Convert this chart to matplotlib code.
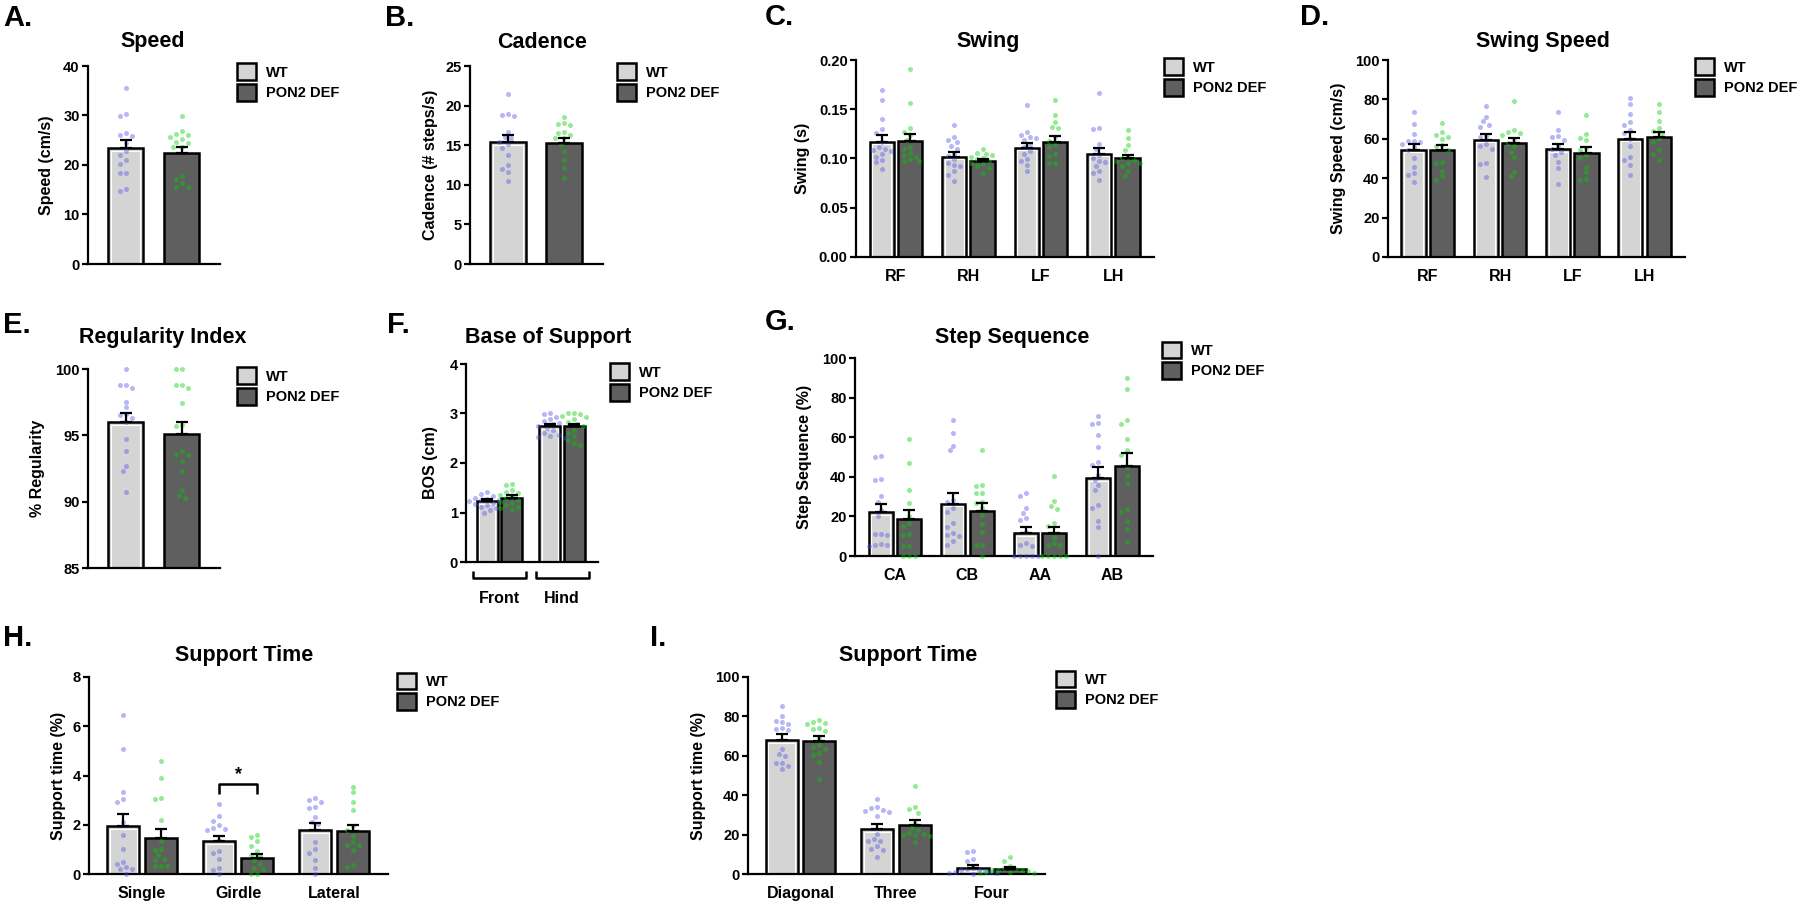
import numpy as np
import matplotlib

matplotlib.use("Agg")
import matplotlib.pyplot as plt
from matplotlib.patches import Patch
from matplotlib.ticker import FormatStrFormatter
from matplotlib.transforms import blended_transform_factory

W, H = 1800, 905
plt.rcParams["font.family"] = ["Liberation Sans", "DejaVu Sans"]
plt.rcParams["font.weight"] = "bold"
plt.rcParams["axes.labelweight"] = "bold"

GROUPS = ["WT", "PON2 DEF"]
WT_FILL = "#d4d4d4"
KO_FILL = "#5f5f5f"
WT_DOT = (0.30, 0.30, 0.92)
KO_DOT = (0.00, 0.82, 0.00)

# --- A. Speed ---------------------------------------------------------------
SPEED_WT_MEAN, SPEED_WT_SEM = [23.4], [1.6]
SPEED_KO_MEAN, SPEED_KO_SEM = [22.5], [1.2]
SPEED_WT_PTS = [[35.6, 30.3, 29.9, 26.5, 26.0, 25.8, 24.4, 22.9, 22.1, 21.1,
                 20.2, 18.3, 18.3, 15.1, 14.8]]
SPEED_KO_PTS = [[29.9, 26.8, 26.2, 26.0, 25.7, 25.2, 24.7, 24.4, 23.7, 23.7,
                 17.8, 17.1, 16.4, 15.6, 15.5]]

# --- B. Cadence -------------------------------------------------------------
CAD_WT_MEAN, CAD_WT_SEM = [15.4], [0.85]
CAD_KO_MEAN, CAD_KO_SEM = [15.3], [0.6]
CAD_WT_PTS = [[21.5, 18.9, 18.8, 18.7, 16.7, 16.0, 15.9, 15.4, 15.1, 14.6,
               13.7, 12.5, 12.0, 11.6, 10.5]]
CAD_KO_PTS = [[18.6, 17.8, 17.7, 17.5, 16.7, 16.6, 16.3, 15.9, 15.9, 15.2,
               14.3, 13.1, 12.1, 10.9]]

# --- C. Swing ---------------------------------------------------------------
LIMBS = ["RF", "RH", "LF", "LH"]
SWING_WT_MEAN = [0.117, 0.102, 0.111, 0.105]
SWING_WT_SEM = [0.007, 0.005, 0.0045, 0.006]
SWING_KO_MEAN = [0.118, 0.097, 0.117, 0.100]
SWING_KO_SEM = [0.007, 0.0027, 0.006, 0.004]
SWING_WT_PTS = [
    [0.170, 0.159, 0.140, 0.130, 0.126, 0.117, 0.112, 0.110, 0.109, 0.108,
     0.105, 0.102, 0.098, 0.096, 0.089],
    [0.134, 0.122, 0.119, 0.117, 0.113, 0.110, 0.105, 0.103, 0.099, 0.095,
     0.093, 0.092, 0.087, 0.083, 0.077],
    [0.154, 0.127, 0.124, 0.122, 0.121, 0.119, 0.115, 0.112, 0.108, 0.105,
     0.099, 0.097, 0.093, 0.087],
    [0.166, 0.131, 0.130, 0.115, 0.110, 0.104, 0.100, 0.097, 0.096, 0.092,
     0.087, 0.085, 0.078],
]
SWING_KO_PTS = [
    [0.191, 0.156, 0.131, 0.127, 0.124, 0.119, 0.112, 0.110, 0.106, 0.104,
     0.102, 0.099, 0.097, 0.097],
    [0.110, 0.106, 0.105, 0.104, 0.102, 0.100, 0.099, 0.097, 0.095, 0.094,
     0.092, 0.090, 0.085],
    [0.159, 0.144, 0.137, 0.132, 0.131, 0.122, 0.118, 0.114, 0.112, 0.105,
     0.103, 0.095, 0.095],
    [0.129, 0.121, 0.114, 0.109, 0.102, 0.100, 0.098, 0.097, 0.095, 0.095,
     0.092, 0.087, 0.082],
]

# --- D. Swing speed ---------------------------------------------------------
SWSP_WT_MEAN = [54.4, 59.5, 54.7, 60.1]
SWSP_WT_SEM = [2.9, 2.8, 2.6, 3.2]
SWSP_KO_MEAN = [54.4, 57.8, 53.0, 61.1]
SWSP_KO_SEM = [2.5, 2.8, 2.7, 2.2]
SWSP_WT_PTS = [
    [73.5, 67.6, 62.5, 59.1, 58.8, 58.6, 57.4, 55.6, 54.4, 50.2, 45.9, 42.6,
     41.7, 38.3],
    [76.7, 71.3, 68.8, 67.1, 66.2, 61.5, 60.8, 57.4, 56.1, 55.0, 47.6, 47.3,
     40.4],
    [73.5, 64.5, 61.5, 60.8, 59.5, 56.1, 54.7, 53.5, 51.9, 48.1, 45.1, 37.2],
    [80.9, 77.5, 72.5, 68.4, 67.1, 64.5, 62.8, 59.8, 56.1, 51.0, 49.3, 46.8,
     41.7],
]
SWSP_KO_PTS = [
    [68.2, 63.2, 62.0, 61.1, 60.0, 56.6, 56.1, 54.4, 48.0, 47.6, 43.9, 40.9,
     39.2],
    [79.2, 64.5, 63.2, 62.8, 62.0, 59.8, 58.0, 56.1, 53.5, 51.0, 43.4, 40.9],
    [72.1, 62.5, 60.3, 59.5, 55.2, 54.4, 52.0, 50.2, 45.9, 42.9, 39.7, 38.9],
    [77.5, 73.8, 69.1, 65.4, 64.2, 62.8, 60.0, 58.6, 54.4, 52.4, 49.3],
]

# --- E. Regularity index ----------------------------------------------------
REG_WT_MEAN, REG_WT_SEM = [96.0], [0.72]
REG_KO_MEAN, REG_KO_SEM = [95.1], [0.94]
REG_WT_PTS = [[100.0, 98.8, 98.8, 98.6, 97.55, 97.1, 96.6, 96.5, 96.3, 96.0,
               94.7, 93.8, 92.7, 92.3, 90.7]]
REG_KO_PTS = [[100.0, 100.0, 98.8, 98.8, 98.6, 97.4, 95.8, 95.7, 93.8, 93.6,
               93.5, 93.1, 92.3, 90.9, 90.5, 90.3]]

# --- F. Base of support -----------------------------------------------------
PAWS = ["Front", "Hind"]
BOS_WT_MEAN, BOS_WT_SEM = [1.225, 2.74], [0.045, 0.05]
BOS_KO_MEAN, BOS_KO_SEM = [1.29, 2.74], [0.07, 0.05]
BOS_WT_PTS = [
    [1.41, 1.37, 1.34, 1.30, 1.28, 1.26, 1.25, 1.23, 1.20, 1.18, 1.15, 1.12,
     1.09, 1.05, 1.00],
    [3.01, 2.99, 2.92, 2.88, 2.84, 2.81, 2.78, 2.75, 2.71, 2.66, 2.61, 2.57,
     2.55, 2.52, 2.50],
]
BOS_KO_PTS = [
    [1.58, 1.56, 1.45, 1.42, 1.39, 1.35, 1.31, 1.29, 1.26, 1.22, 1.19, 1.16,
     1.12, 1.09, 1.06],
    [3.02, 3.00, 2.98, 2.95, 2.93, 2.88, 2.82, 2.78, 2.74, 2.67, 2.61, 2.55,
     2.47, 2.40, 2.37],
]

# --- G. Step sequence -------------------------------------------------------
STEPS = ["CA", "CB", "AA", "AB"]
SEQ_WT_MEAN = [22.1, 26.5, 11.5, 39.3]
SEQ_WT_SEM = [4.2, 5.5, 3.2, 5.6]
SEQ_KO_MEAN = [18.9, 22.8, 11.5, 45.5]
SEQ_KO_SEM = [4.4, 3.8, 3.3, 6.4]
SEQ_WT_PTS = [
    [50.3, 50.0, 39.0, 38.2, 30.3, 27.5, 23.0, 20.2, 11.3, 11.0, 10.6, 6.0,
     5.6, 5.4, 5.0],
    [68.8, 62.1, 55.8, 53.3, 28.3, 27.2, 24.1, 22.4, 16.5, 14.8, 11.8, 10.6,
     10.1, 7.8, 5.6],
    [32.0, 30.5, 24.1, 21.6, 19.1, 18.2, 12.3, 6.4, 5.6, 5.1, 0, 0, 0, 0, 0],
    [70.8, 67.1, 66.8, 61.2, 55.3, 47.7, 46.0, 41.0, 38.4, 35.9, 33.4, 25.8,
     24.1, 17.9, 14.5, 0],
]
SEQ_KO_PTS = [
    [59.0, 47.2, 33.4, 26.6, 20.0, 16.9, 15.2, 11.1, 10.6, 5.1, 5.1, 0, 0, 0],
    [53.6, 35.9, 35.6, 32.0, 31.7, 27.5, 27.0, 24.1, 20.7, 16.2, 12.0, 5.6,
     5.6, 0],
    [40.5, 28.0, 25.3, 23.8, 16.5, 15.2, 9.8, 6.4, 5.6, 5.6, 0, 0, 0, 0, 0],
    [89.9, 84.3, 68.8, 66.8, 59.0, 53.3, 51.1, 45.2, 40.5, 37.1, 23.8, 22.4,
     17.9, 13.5, 6.9],
]

# --- H. Support time (single / girdle / lateral) ----------------------------
SUP1 = ["Single", "Girdle", "Lateral"]
SUP1_WT_MEAN = [1.93, 1.32, 1.77]
SUP1_WT_SEM = [0.51, 0.23, 0.29]
SUP1_KO_MEAN = [1.46, 0.67, 1.73]
SUP1_KO_SEM = [0.36, 0.15, 0.24]
SUP1_WT_PTS = [
    [6.45, 5.07, 3.31, 3.05, 2.94, 2.10, 1.57, 1.03, 0.49, 0.40, 0.27, 0.22,
     0.20, 0.02],
    [2.83, 2.36, 2.17, 1.97, 1.86, 1.84, 1.77, 1.39, 0.92, 0.85, 0.61, 0.24,
     0.18, 0.0],
    [3.10, 3.01, 2.94, 2.71, 2.67, 2.33, 2.13, 2.04, 1.30, 1.01, 0.85, 0.55,
     0.24, 0.0],
]
SUP1_KO_PTS = [
    [4.60, 3.89, 3.10, 3.05, 2.20, 1.32, 1.01, 0.99, 0.78, 0.61, 0.55, 0.34,
     0.31, 0.31],
    [1.59, 1.50, 1.32, 1.15, 0.92, 0.78, 0.72, 0.55, 0.40, 0.24, 0.20, 0.0,
     0.0],
    [3.55, 3.31, 2.94, 2.60, 1.93, 1.79, 1.53, 1.28, 1.19, 1.19, 0.99, 0.38,
     0.28],
]
SIG_GROUP = 1          # Girdle, p < 0.05
SIG_LEG, SIG_TOP = 3.25, 3.65

# --- I. Support time (diagonal / three / four) ------------------------------
SUP2 = ["Diagonal", "Three", "Four"]
SUP2_WT_MEAN = [68.0, 22.8, 3.0]
SUP2_WT_SEM = [3.0, 2.7, 1.4]
SUP2_KO_MEAN = [67.6, 25.0, 2.5]
SUP2_KO_SEM = [2.4, 2.5, 1.0]
SUP2_WT_PTS = [
    [85.2, 80.1, 77.7, 77.2, 76.1, 74.2, 73.5, 73.0, 63.2, 60.7, 60.0, 56.5,
     56.2, 54.8, 53.3],
    [37.9, 33.9, 33.4, 32.5, 32.2, 31.7, 29.2, 20.2, 17.7, 17.0, 16.5, 14.0,
     12.6, 12.3, 8.4],
    [11.5, 11.3, 7.6, 6.4, 3.0, 2.5, 2.0, 1.8, 1.5, 1.2, 1.0, 0.5, 0.3, 0.0],
]
SUP2_KO_PTS = [
    [78.4, 77.2, 76.4, 76.1, 73.9, 73.4, 72.7, 68.8, 65.4, 64.6, 63.7, 61.6,
     60.4, 57.0, 48.1],
    [44.9, 33.9, 33.1, 31.2, 25.8, 23.3, 22.4, 20.7, 20.2, 20.0, 19.9, 19.5,
     16.0],
    [8.6, 6.4, 3.9, 3.0, 2.5, 2.2, 2.0, 1.8, 1.5, 1.2, 1.0, 0.6, 0.3],
]


fig = plt.figure(figsize=(W / 100, H / 100), dpi=100)


def px_axes(left, top, right, bottom):
    return fig.add_axes([left / W, 1 - bottom / H, (right - left) / W,
                         (bottom - top) / H])


def px_scale(ax):
    bb = ax.get_window_extent()
    x0, x1 = ax.get_xlim()
    y0, y1 = ax.get_ylim()
    return bb.width / (x1 - x0), bb.height / (y1 - y0)


def swarm_x(vals, ax, center, d=6.0):
    """Beeswarm offsets in pixel space so dots don't overlap."""
    ppx, ppy = px_scale(ax)
    yp = np.asarray(vals, float) * ppy
    steps = [0.0]
    for k in range(1, 14):
        steps += [-k * d / 2, k * d / 2]
    placed = []
    out = np.zeros(len(yp))
    for i in np.argsort(-yp):
        for s in steps:
            if all((s - a) ** 2 + (yp[i] - b) ** 2 >= 0.9 * d * d
                   for a, b in placed):
                break
        placed.append((s, yp[i]))
        out[i] = center + s / ppx
    return out


def panel(box, ylim, yticks, xlim, xw, xk, width,
          wt_mean, wt_sem, ko_mean, ko_sem, wt_pts, ko_pts,
          ylabel, ylabel_x, cats=None, xpad=8.5, fmt=None):
    ax = px_axes(*box)
    ax.set_xlim(*xlim)
    ax.set_ylim(*ylim)
    base = ylim[0]
    ax.bar(xw, np.subtract(wt_mean, base), width, bottom=base,
           color=WT_FILL, edgecolor="black", linewidth=1.8, zorder=2)
    # thin white inner rim on the WT bars (Prism style)
    ppx, ppy = px_scale(ax)
    ax.bar(xw, np.subtract(wt_mean, base) - 2.6 / ppy, width - 5.2 / ppx,
           bottom=base, facecolor="none", edgecolor="white", linewidth=0.8,
           zorder=2.1)
    ax.bar(xk, np.subtract(ko_mean, base), width, bottom=base,
           color=KO_FILL, edgecolor="black", linewidth=1.8, zorder=2)
    for x, pts in zip(xw, wt_pts):
        ax.scatter(swarm_x(pts, ax, x), pts, s=13, color=WT_DOT, alpha=0.4,
                   linewidths=0, zorder=3, clip_on=False)
    for x, pts in zip(xk, ko_pts):
        ax.scatter(swarm_x(pts, ax, x), pts, s=13, color=KO_DOT, alpha=0.42,
                   linewidths=0, zorder=3, clip_on=False)
    ax.errorbar(xw, wt_mean, yerr=[np.zeros(len(xw)), wt_sem], fmt="none",
                ecolor="black", elinewidth=1.6, capsize=4.5, capthick=1.6,
                zorder=4)
    ax.errorbar(xk, ko_mean, yerr=[np.zeros(len(xk)), ko_sem], fmt="none",
                ecolor="black", elinewidth=1.6, capsize=4.5, capthick=1.6,
                zorder=4)

    ax.set_yticks(yticks)
    if fmt:
        ax.yaxis.set_major_formatter(FormatStrFormatter(fmt))
    for s in ("top", "right"):
        ax.spines[s].set_visible(False)
    for s in ("left", "bottom"):
        ax.spines[s].set_linewidth(1.6)
    ax.tick_params(axis="y", length=4.5, width=1.6, labelsize=10.5, pad=1.5)
    ax.tick_params(axis="x", length=0, labelsize=11.5, pad=xpad)
    if cats is None:
        ax.set_xticks([])
    else:
        ax.set_xticks(range(len(cats)))
        ax.set_xticklabels(cats)
    ax.set_ylabel(ylabel, fontsize=11.5, va="center")
    ax.yaxis.set_label_coords((ylabel_x - box[0]) / (box[2] - box[0]), 0.5)
    return ax


def legend(ax, x_px, row_y_px):
    handles = [Patch(facecolor=WT_FILL, edgecolor="black", linewidth=1.8),
               Patch(facecolor=KO_FILL, edgecolor="black", linewidth=1.8)]
    ax.legend(handles, GROUPS, loc="upper left",
              bbox_to_anchor=(x_px / W, 1 - (row_y_px - 9.5) / H),
              bbox_transform=fig.transFigure, frameon=False, borderpad=0,
              borderaxespad=0, handlelength=1.3, handleheight=1.35,
              handletextpad=0.7, labelspacing=0.3,
              prop={"size": 10.5, "weight": "bold"})


def label(x_px, y_px, text, size, ha="left"):
    fig.text(x_px / W, 1 - y_px / H, text, fontsize=size, fontweight="bold",
             ha=ha, va="center")


def grouped(n):
    c = np.arange(n)
    return c - 0.196, c + 0.196, (-0.55, n - 1 + 0.56)


# A
axA = panel((88, 66, 220, 264), (0, 40), range(0, 41, 10), (-0.664, 1.673),
            [0], [1], 0.62, SPEED_WT_MEAN, SPEED_WT_SEM, SPEED_KO_MEAN,
            SPEED_KO_SEM, SPEED_WT_PTS, SPEED_KO_PTS, "Speed (cm/s)", 47)
legend(axA, 237, 73)
# B
axB = panel((470, 66, 603, 264), (0, 25), range(0, 26, 5), (-0.68, 1.70),
            [0], [1], 0.64, CAD_WT_MEAN, CAD_WT_SEM, CAD_KO_MEAN, CAD_KO_SEM,
            CAD_WT_PTS, CAD_KO_PTS, "Cadence (# steps/s)", 430)
legend(axB, 617, 73)
# C
xw, xk, xl = grouped(4)
axC = panel((856, 60, 1154, 257), (0, 0.20), np.arange(0, 0.201, 0.05), xl,
            xw, xk, 0.335, SWING_WT_MEAN, SWING_WT_SEM, SWING_KO_MEAN,
            SWING_KO_SEM, SWING_WT_PTS, SWING_KO_PTS, "Swing (s)", 802,
            cats=LIMBS, fmt="%.2f")
legend(axC, 1164, 68)
# D
axD = panel((1388, 60, 1685, 257), (0, 100), range(0, 101, 20), xl,
            xw, xk, 0.335, SWSP_WT_MEAN, SWSP_WT_SEM, SWSP_KO_MEAN,
            SWSP_KO_SEM, SWSP_WT_PTS, SWSP_KO_PTS, "Swing Speed (cm/s)", 1338,
            cats=LIMBS)
legend(axD, 1695, 68)
# E
axE = panel((88, 369, 220, 568), (85, 100), range(85, 101, 5),
            (-0.664, 1.673), [0], [1], 0.62, REG_WT_MEAN, REG_WT_SEM,
            REG_KO_MEAN, REG_KO_SEM, REG_WT_PTS, REG_KO_PTS, "% Regularity", 38)
legend(axE, 237, 377)
# F
fw, fk = np.arange(2) - 0.196, np.arange(2) + 0.196
axF = panel((466, 364, 598, 562), (0, 4), range(0, 5), (-0.536, 1.576),
            fw, fk, 0.336, BOS_WT_MEAN, BOS_WT_SEM, BOS_KO_MEAN, BOS_KO_SEM,
            BOS_WT_PTS, BOS_KO_PTS, "BOS (cm)", 431, cats=PAWS, xpad=21)
legend(axF, 610, 373)
tr = blended_transform_factory(axF.transData, axF.transAxes)
for i in range(len(PAWS)):
    axF.plot([i - 0.424, i - 0.424, i + 0.424, i + 0.424],
             [-0.045, -0.081, -0.081, -0.045], color="black", lw=1.8,
             transform=tr, clip_on=False, solid_capstyle="butt")
# G
axG = panel((855, 358, 1153, 556), (0, 100), range(0, 101, 20), xl,
            xw, xk, 0.33, SEQ_WT_MEAN, SEQ_WT_SEM, SEQ_KO_MEAN, SEQ_KO_SEM,
            SEQ_WT_PTS, SEQ_KO_PTS, "Step Sequence (%)", 805, cats=STEPS)
legend(axG, 1162, 351)
# H
hw, hk, hl = grouped(3)
axH = panel((89, 677, 388, 874), (0, 8), range(0, 9, 2), hl, hw, hk, 0.335,
            SUP1_WT_MEAN, SUP1_WT_SEM, SUP1_KO_MEAN, SUP1_KO_SEM,
            SUP1_WT_PTS, SUP1_KO_PTS, "Support time (%)", 58, cats=SUP1)
legend(axH, 397, 682)
g = SIG_GROUP
axH.plot([hw[g], hw[g], hk[g], hk[g]], [SIG_LEG, SIG_TOP, SIG_TOP, SIG_LEG],
         color="black", lw=1.8, zorder=5, solid_capstyle="butt")
axH.text((hw[g] + hk[g]) / 2, SIG_TOP + 0.05, "*", ha="center", va="bottom",
         fontsize=13, fontweight="bold")
# I
axI = panel((748, 677, 1045, 874), (0, 100), range(0, 101, 20), hl, hw, hk,
            0.335, SUP2_WT_MEAN, SUP2_WT_SEM, SUP2_KO_MEAN, SUP2_KO_SEM,
            SUP2_WT_PTS, SUP2_KO_PTS, "Support time (%)", 698, cats=SUP2)
legend(axI, 1056, 680)

# titles
for x, y, t in [(153, 42, "Speed"), (542, 42, "Cadence"), (988, 41, "Swing"),
                (1543, 41, "Swing Speed"), (163, 338, "Regularity Index"),
                (548, 337, "Base of Support"), (1012, 337, "Step Sequence"),
                (244, 655, "Support Time"), (908, 655, "Support Time")]:
    label(x, y, t, 15.5, ha="center")

# panel letters
for x, y, t in [(3, 18, "A."), (385, 18, "B."), (765, 17, "C."),
                (1300, 17, "D."), (3, 325, "E."), (387, 325, "F."),
                (765, 322, "G."), (3, 638, "H."), (650, 638, "I.")]:
    label(x, y, t, 21)

fig.savefig("out.png", dpi=100)
